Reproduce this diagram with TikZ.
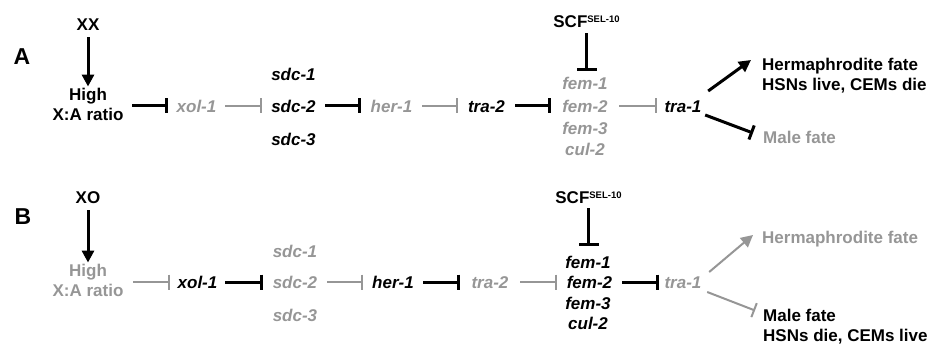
\documentclass[tikz,border=0pt]{standalone}
\usepackage{fontspec}
\setmainfont{Liberation Sans}
\usetikzlibrary{arrows.meta}
\definecolor{lg}{RGB}{150,150,150}
\begin{document}
\begin{tikzpicture}[x=1pt,y=-1pt,
  txt/.style={inner sep=0pt, font=\fontsize{17}{20}\selectfont\bfseries},
  gene/.style={inner sep=0pt, font=\fontsize{17}{20}\selectfont\bfseries\itshape, text height=12.5pt, text depth=0pt},
  panel/.style={inner sep=0pt, font=\fontsize{23}{23}\selectfont\bfseries},
  blk/.style={line width=3pt, black},
  gry/.style={line width=2pt, lg},
  inh/.style={-{Bar[width=15pt]}},
  inhw/.style={-{Bar[width=20pt]}},
  act/.style={-{Triangle[width=12pt,length=12pt]}},
  sup/.style={}]
\useasboundingbox (0,0) rectangle (930,350);
% ---------------- Panel A ----------------
\node[panel] (pA) at (22,57) {A};
\node[txt] (xx) at (88,25) {XX};
\node[txt, align=center, minimum width=88pt] (hiA) at (88,104) {High\\X:A ratio};
\node[gene, lg, minimum width=57pt] (xolA) at (196.5,106) {xol-1};
\node[gene] (sdcA1) at (293.5,74) {sdc-1};
\node[gene, minimum width=63pt] (sdcA2) at (293.5,106) {sdc-2};
\node[gene] (sdcA3) at (293.5,139) {sdc-3};
\node[gene, lg, minimum width=61pt] (herA) at (391.5,106) {her-1};
\node[gene, minimum width=57pt] (traA2) at (486.5,106) {tra-2};
\node[gene, lg] (femA1) at (585,83) {fem-1};
\node[gene, lg, minimum width=68pt] (femA2) at (585,106) {fem-2};
\node[gene, lg] (femA3) at (585,128) {fem-3};
\node[gene, lg] (culA) at (585,149) {cul-2};
\node[gene, minimum width=52pt] (traA1) at (683,106) {tra-1};
\node[txt, anchor=base] (scfA) at (586.5,28) {SCF\raisebox{5.5pt}{\fontsize{9.5}{10}\selectfont SEL-10}};
\node[txt, anchor=west, align=left] (hermA) at (762,76) {Hermaphrodite fate\\HSNs live, CEMs die};
\node[txt, lg, anchor=west] (maleA) at (763,137) {Male fate};

\draw[blk, act, shorten <=6pt, shorten >=1pt] (xx.south) -- (hiA.north);
\draw[blk, inh] (hiA.east |- xolA.west) -- (xolA.west);
\draw[gry, inh] (xolA.east) -- (sdcA2.west);
\draw[blk, inh] (sdcA2.east) -- (herA.west);
\draw[gry, inh] (herA.east) -- (traA2.west);
\draw[blk, inh] (traA2.east) -- (femA2.west);
\draw[gry, inh] (femA2.east) -- (traA1.west);
\draw[blk, inhw, shorten <=5pt, shorten >=6pt] (scfA.south) -- (scfA.south |- femA1.north);
\draw[blk, act] ([yshift=15pt,xshift=-1pt]traA1.east) -- ([xshift=-11pt,yshift=16pt]hermA.west);
\draw[blk, inh] ([yshift=-9pt,xshift=-4pt]traA1.east) -- ([xshift=-10pt,yshift=4pt]maleA.west);

% ---------------- Panel B ----------------
\node[panel] (pB) at (23,217) {B};
\node[txt] (xo) at (88,198) {XO};
\node[txt, lg, align=center, minimum width=90pt] (hiB) at (88,280) {High\\X:A ratio};
\node[gene, minimum width=55pt] (xolB) at (197.5,282) {xol-1};
\node[gene, lg] (sdcB1) at (295,251) {sdc-1};
\node[gene, lg, minimum width=64pt] (sdcB2) at (295,282) {sdc-2};
\node[gene, lg] (sdcB3) at (295,315) {sdc-3};
\node[gene, minimum width=60pt] (herB) at (393,282) {her-1};
\node[gene, lg, minimum width=60pt] (traB2) at (490,282) {tra-2};
\node[gene] (femB1) at (588,262) {fem-1};
\node[gene, minimum width=65pt] (femB2) at (589.5,282) {fem-2};
\node[gene] (femB3) at (588,303) {fem-3};
\node[gene] (culB) at (588,323) {cul-2};
\node[gene, lg, minimum width=48pt] (traB1) at (683,282) {tra-1};
\node[txt, anchor=base] (scfB) at (588.5,204) {SCF\raisebox{5.5pt}{\fontsize{9.5}{10}\selectfont SEL-10}};
\node[txt, lg, anchor=west] (hermB) at (762,239) {Hermaphrodite fate};
\node[txt, anchor=west, align=left] (maleB) at (763,326.5) {Male fate\\HSNs die, CEMs live};

\draw[blk, act, shorten <=6pt, shorten >=1pt] (xo.south) -- (hiB.north);
\draw[gry, inh] (hiB.east |- xolB.west) -- (xolB.west);
\draw[blk, inh] (xolB.east) -- (sdcB2.west);
\draw[gry, inh] (sdcB2.east) -- (herB.west);
\draw[blk, inh] (herB.east) -- (traB2.west);
\draw[gry, inh] (traB2.east) -- (femB2.west);
\draw[blk, inh] (femB2.east) -- (traB1.west);
\draw[blk, inhw, shorten <=4pt, shorten >=10pt] (scfB.south) -- (scfB.south |- femB1.north);
\draw[gry, act, lg] ([yshift=10pt,xshift=2pt]traB1.east) -- ([xshift=-9pt,yshift=4pt]hermB.west);
\draw[gry, inh] ([yshift=-10pt]traB1.east) -- ([xshift=-8pt,yshift=16pt]maleB.west);
\end{tikzpicture}
\end{document}
